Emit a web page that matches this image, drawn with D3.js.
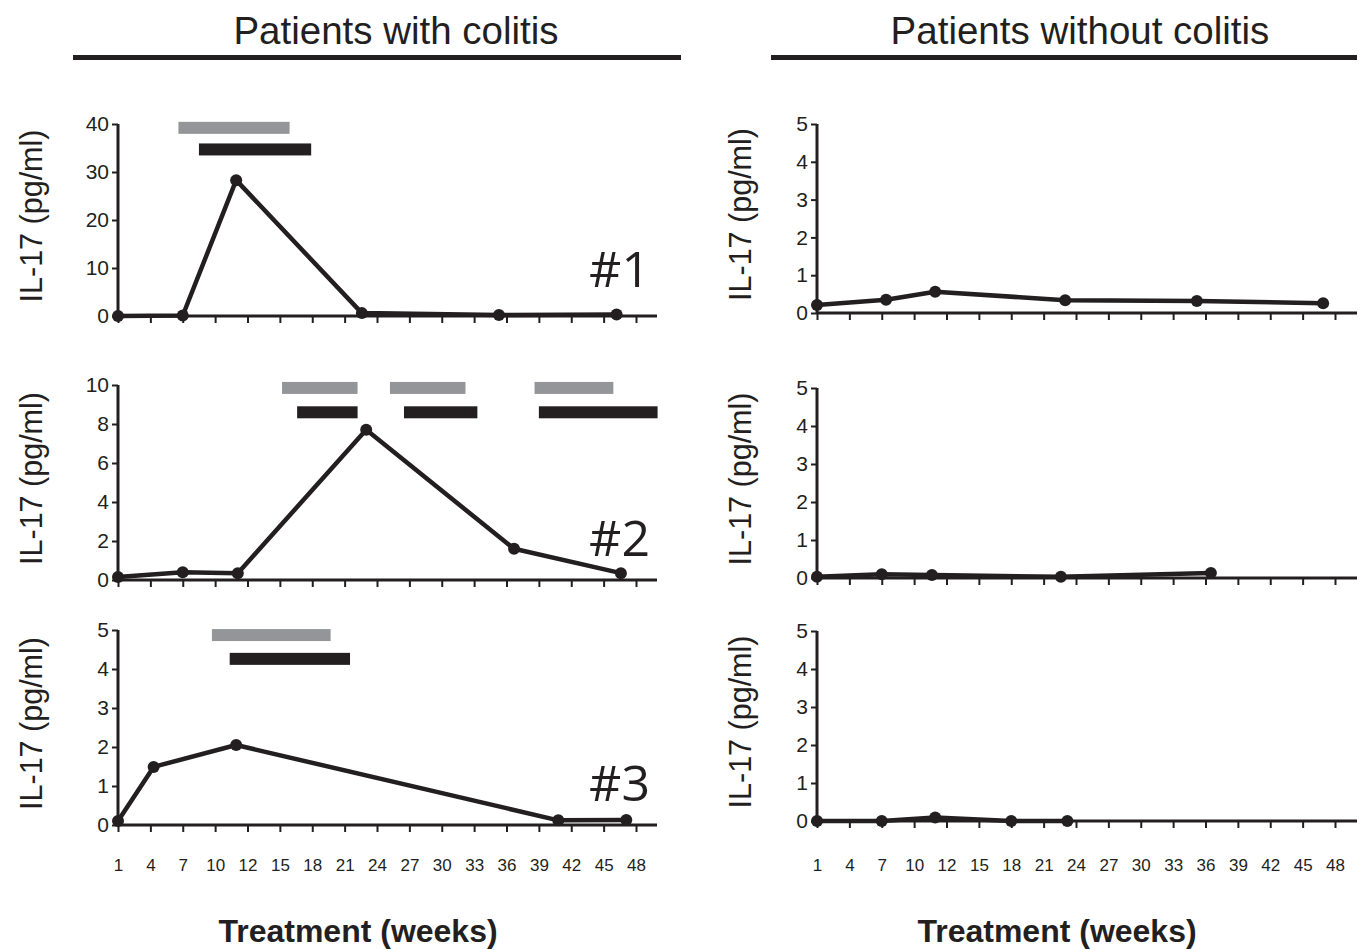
<!DOCTYPE html>
<html><head><meta charset="utf-8">
<script src="https://cdn.jsdelivr.net/npm/d3@7"></script>
<style>
html,body{margin:0;padding:0;background:#fff;}
svg{display:block;font-family:"Liberation Sans",Arial,sans-serif;}
</style></head>
<body>
<svg id="chart" width="1363" height="950"></svg>
<script>
// ---- data ----
const weekTicks = [1,4,7,10,12,15,18,21,24,27,30,33,36,39,42,45,48];
const groupTitles = ["Patients with colitis","Patients without colitis"];
const xTitle = "Treatment (weeks)";
const yTitle = "IL-17 (pg/ml)";
const patientLabels = ["#1","#2","#3"];

const colitis1Weeks = [1,7,11.3,22.6,35.3,46.2];
const colitis1Values = [0,0.1,28.3,0.6,0.2,0.3];
const colitis2Weeks = [1,7,11.4,23,36.7,46.6];
const colitis2Values = [0.15,0.4,0.35,7.7,1.6,0.35];
const colitis3Weeks = [1,4.3,11.3,40.8,47.1];
const colitis3Values = [0.1,1.49,2.05,0.12,0.13];

const noColitis1Weeks = [1,7.4,11.3,23,35.2,46.9];
const noColitis1Values = [0.21,0.35,0.56,0.34,0.32,0.26];
const noColitis2Weeks = [1,7,11.1,22.6,36.5];
const noColitis2Values = [0.03,0.1,0.08,0.03,0.13];
const noColitis3Weeks = [1,7,11.3,18,23.2];
const noColitis3Values = [0,0,0.09,0,0];

// treatment periods: [startWeek, endWeek], level in IL-17 units
const colitis1GrayBars = [[6.6,15.9]];   const colitis1GrayLevel = 39.2;
const colitis1BlackBars = [[8.5,17.9]];  const colitis1BlackLevel = 34.7;
const colitis2GrayBars = [[15.2,22.2],[25.2,32.2],[38.6,45.9]]; const colitis2GrayLevel = 9.85;
const colitis2BlackBars = [[16.6,22.2],[26.5,33.3],[39,50]];    const colitis2BlackLevel = 8.6;
const colitis3GrayBars = [[9.7,19.7]];   const colitis3GrayLevel = 4.87;
const colitis3BlackBars = [[10.9,21.5]]; const colitis3BlackLevel = 4.26;

const yTicksA = [0,10,20,30,40];
const yTicksB = [0,2,4,6,8,10];
const yTicksC = [0,1,2,3,4,5];

// ---- layout ----
const INK = "#231f20", GRAY = "#939598";
const FONT = "'Liberation Sans', Arial, sans-serif";
const svg = d3.select("#chart");

const cols = [
  {x0:118, x1:657, tickEnd:636, titleX:396, lineX0:73, lineX1:681, xTitleX:358, yTitleX:31},
  {x0:817, x1:1357, tickEnd:1335, titleX:1080, lineX0:771, lineX1:1357, xTitleX:1057, yTitleX:740}
];
const panels = [
  {col:0, top:124, base:316, max:40, ticks:yTicksA, weeks:colitis1Weeks, values:colitis1Values,
   gray:colitis1GrayBars, grayLevel:colitis1GrayLevel, black:colitis1BlackBars, blackLevel:colitis1BlackLevel, label:patientLabels[0], labelY:287},
  {col:0, top:385, base:580, max:10, ticks:yTicksB, weeks:colitis2Weeks, values:colitis2Values,
   gray:colitis2GrayBars, grayLevel:colitis2GrayLevel, black:colitis2BlackBars, blackLevel:colitis2BlackLevel, label:patientLabels[1], labelY:556},
  {col:0, top:630, base:825, max:5, ticks:yTicksC, weeks:colitis3Weeks, values:colitis3Values,
   gray:colitis3GrayBars, grayLevel:colitis3GrayLevel, black:colitis3BlackBars, blackLevel:colitis3BlackLevel, label:patientLabels[2], labelY:801, bottom:true},
  {col:1, top:124, base:313, max:5, ticks:yTicksC, weeks:noColitis1Weeks, values:noColitis1Values},
  {col:1, top:388, base:578, max:5, ticks:yTicksC, weeks:noColitis2Weeks, values:noColitis2Values},
  {col:1, top:631, base:821, max:5, ticks:yTicksC, weeks:noColitis3Weeks, values:noColitis3Values, bottom:true}
];

// group titles + rules
cols.forEach((c,i)=>{
  svg.append("text").attr("x",c.titleX).attr("y",44).attr("text-anchor","middle")
    .attr("font-family",FONT).attr("font-size",38.5).attr("fill",INK).text(groupTitles[i]);
  svg.append("rect").attr("x",c.lineX0).attr("y",55).attr("width",c.lineX1-c.lineX0).attr("height",5).attr("fill",INK);
  svg.append("text").attr("x",c.xTitleX).attr("y",942).attr("text-anchor","middle")
    .attr("font-family",FONT).attr("font-size",32).attr("font-weight","bold").attr("fill",INK).text(xTitle);
});

panels.forEach(p=>{
  const c = cols[p.col];
  const step = (c.tickEnd - c.x0)/(weekTicks.length-1);
  const x = d3.scaleLinear().domain(weekTicks).range(weekTicks.map((d,i)=>c.x0 + i*step));
  const y = d3.scaleLinear().domain([0,p.max]).range([p.base,p.top]);
  const g = svg.append("g");

  // y axis
  const ya = g.append("g").attr("transform",`translate(${c.x0},0)`)
    .call(d3.axisLeft(y).tickValues(p.ticks).tickSize(6).tickPadding(3).tickFormat(d3.format("d")));
  ya.attr("font-family",FONT).attr("font-size",21);
  ya.select(".domain").attr("stroke",INK).attr("stroke-width",3).attr("d",`M0,${p.top}V${p.base}`);
  ya.selectAll(".tick line").attr("stroke",INK).attr("stroke-width",2);
  ya.selectAll(".tick text").attr("fill",INK);

  // x axis
  const xa = g.append("g").attr("transform",`translate(0,${p.base})`)
    .call(d3.axisBottom(x).tickValues(weekTicks).tickSize(7).tickPadding(22).tickFormat(d3.format("d")));
  xa.attr("font-family",FONT).attr("font-size",17);
  xa.select(".domain").attr("stroke",INK).attr("stroke-width",3).attr("d",`M${c.x0},0H${c.x1}`);
  xa.selectAll(".tick line").attr("stroke",INK).attr("stroke-width",2);
  xa.selectAll(".tick text").attr("fill",INK).style("display", p.bottom ? null : "none");
  if(p.bottom){ xa.selectAll(".tick text").attr("y", 866 - p.base - 7); }

  // y title
  g.append("text").attr("transform",`translate(${c.yTitleX},${(p.top+p.base)/2-4}) rotate(-90)`)
    .attr("text-anchor","middle").attr("dominant-baseline","central")
    .attr("font-family",FONT).attr("font-size",30.5).attr("fill",INK).text(yTitle);

  // treatment bars
  if(p.gray){
    g.selectAll(".gbar").data(p.gray).join("rect").attr("class","gbar")
      .attr("x",d=>x(d[0])).attr("width",d=>x(d[1])-x(d[0]))
      .attr("y",y(p.grayLevel)-6).attr("height",12).attr("fill",GRAY);
    g.selectAll(".bbar").data(p.black).join("rect").attr("class","bbar")
      .attr("x",d=>x(d[0])).attr("width",d=>x(d[1])-x(d[0]))
      .attr("y",y(p.blackLevel)-6).attr("height",12).attr("fill",INK);
  }

  // line + dots
  const pts = p.weeks.map((w,i)=>[w,p.values[i]]);
  g.append("path").datum(pts)
    .attr("d", d3.line().x(d=>x(d[0])).y(d=>y(d[1])))
    .attr("fill","none").attr("stroke",INK).attr("stroke-width",4.5).attr("stroke-linejoin","round");
  g.selectAll(".dot").data(pts).join("circle").attr("class","dot")
    .attr("cx",d=>x(d[0])).attr("cy",d=>y(d[1])).attr("r",6).attr("fill",INK);

  if(p.label){
    g.append("text").attr("x",650).attr("y",p.labelY).attr("text-anchor","end")
      .attr("font-family","'Open Sans', 'Noto Sans', sans-serif").attr("font-size",50)
      .attr("fill",INK).text(p.label);
  }
});
</script>
</body></html>
